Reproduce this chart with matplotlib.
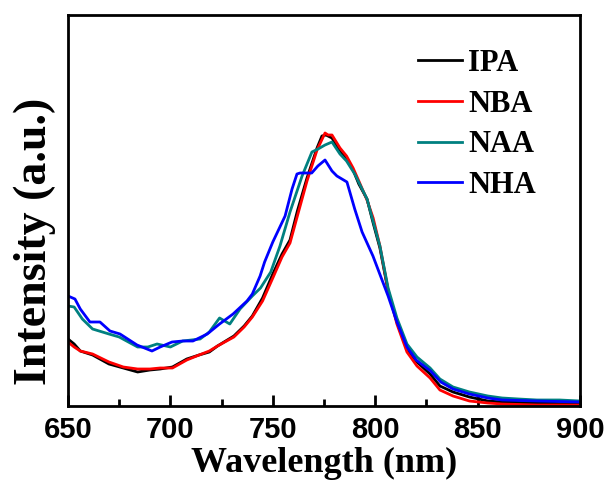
#!/usr/bin/env python3
"""PL spectra of IPA / NBA / NAA / NHA samples."""

import matplotlib

matplotlib.use("Agg")
import matplotlib.pyplot as plt

# values (intensity in arbitrary units)
ipa_wl = [650, 653, 656, 662, 670, 677, 684, 690, 695, 701, 708, 714, 719, 723, 731,
          736, 740, 745, 750, 754.5, 758.4, 762, 766.7, 771.6, 774, 776, 778.9, 782.8,
          786, 789.2, 792, 796, 799, 802.3, 806.3, 810.6, 815.5, 820.4, 826.8, 831.6,
          838, 846, 855, 862, 879, 900]
ipa_int = [67, 62, 55, 51, 42, 38, 34, 36, 37, 39, 47, 51, 54, 60, 70,
           80, 90, 108, 132, 152, 166, 195, 228, 258, 270, 271, 268, 255,
           247, 236, 222, 207, 183, 158, 115, 84, 57, 44, 32, 20,
           14, 9, 5, 4, 3, 2]

nba_wl = [650, 653, 656, 662, 670, 677, 684, 690, 695, 701, 708, 714, 719, 723, 731,
          736, 740, 745, 750, 754.5, 758.4, 762, 766.7, 771.6, 775.5, 777, 778.9, 782.8,
          786, 789.2, 792, 796, 799, 802.3, 806.3, 810.6, 815.5, 820.4, 826.8, 831.6,
          838, 846, 855, 862, 879, 900]
nba_int = [64, 59, 55, 52, 44, 39, 37, 37, 38, 38, 46, 51, 55, 60, 69,
           79, 89, 105, 128, 149, 163, 190, 225, 256, 273, 271, 271, 258,
           250, 238, 225, 206, 188, 160, 116, 82, 54, 40, 28, 16,
           10, 5, 3, 2, 1, 1]

naa_wl = [650, 653, 657, 662, 670, 675, 684, 689, 693.5, 700, 706, 714.5, 719, 724,
          729, 734, 740, 744, 749, 753.5, 758.4, 764.3, 769.1, 772.1, 775.5, 778.9,
          782.8, 786, 790, 796, 802.3, 806.3, 810.6, 815.5, 820.4, 826.8, 831.6, 838,
          846, 855, 862, 870, 879, 890, 900]
naa_int = [100, 99, 87, 77, 72, 69, 59, 59, 62, 59, 65, 67, 74, 88,
           82, 97, 110, 118, 134, 160, 194, 230, 254, 257, 261, 264,
           252, 245, 232, 207, 160, 118, 88, 62, 49, 38, 27, 19,
           14, 10, 8, 7, 6, 6, 5]

nha_wl = [650, 653.4, 656, 660.7, 665.6, 670.5, 675.4, 683.7, 691, 695, 700.8, 706,
          711, 718, 724, 730.6, 737.4, 740, 743.8, 746, 750, 756, 759.4, 761.8, 763.3,
          769, 772, 775.5, 778.9, 781.3, 786.2, 790, 793.6, 798.9, 806.3, 810.6, 815.5,
          820, 827, 832, 838, 846, 855, 862, 879, 900]
nha_int = [110, 107, 97, 84, 84, 75, 72, 61, 55, 59, 64, 65,
           65, 72, 82, 92, 105, 112, 130, 144, 164, 190, 217, 232, 233,
           233, 240, 246, 235, 230, 224, 197, 174, 150, 110, 84, 59,
           46, 35, 24, 17, 12, 8, 6, 5, 4]

SERIES = [
    ("IPA", ipa_wl, ipa_int, "#000000"),
    ("NBA", nba_wl, nba_int, "#ff0000"),
    ("NAA", naa_wl, naa_int, "#008080"),
    ("NHA", nha_wl, nha_int, "#0000ff"),
]

serif = ["Liberation Serif", "DejaVu Serif"]
sans = ["Liberation Sans", "DejaVu Sans"]

fig = plt.figure(figsize=(6.11, 4.94), dpi=100)
ax = fig.add_axes([68 / 611, 88 / 494, 512 / 611, 391 / 494])

for label, wl, inten, color in SERIES:
    ax.plot(wl, inten, color=color, linewidth=2.0, label=label)

ax.set_xlim(650, 900)
ax.set_ylim(0, 391)
ax.set_xticks([650, 700, 750, 800, 850, 900])
ax.set_xticks([675, 725, 775, 825, 875], minor=True)
ax.set_yticks([])
ax.tick_params(axis="x", which="major", direction="in", length=8, width=2, pad=7)
ax.tick_params(axis="x", which="minor", direction="in", length=5, width=2)
for spine in ax.spines.values():
    spine.set_linewidth(2.0)

for tl in ax.get_xticklabels():
    tl.set_family(sans)
    tl.set_fontweight("bold")
    tl.set_fontsize(21)

ax.set_xlabel("Wavelength (nm)", family=serif, fontweight="bold", fontsize=26, labelpad=2)
ax.set_ylabel("Intensity (a.u.)", family=serif, fontweight="bold", fontsize=33)
# label sits a bit below the axes centre in the original
ax.yaxis.set_label_coords(-0.024, 0.42)

leg = ax.legend(
    loc="upper left",
    bbox_to_anchor=(418 / 611, 1 - 49 / 494),
    bbox_transform=fig.transFigure,
    frameon=False,
    prop={"family": serif, "weight": "bold", "size": 22},
    handlelength=1.45,
    handletextpad=0.2,
    labelspacing=0.38,
    borderpad=0,
    borderaxespad=0,
)

fig.savefig("out.png", dpi=100)
